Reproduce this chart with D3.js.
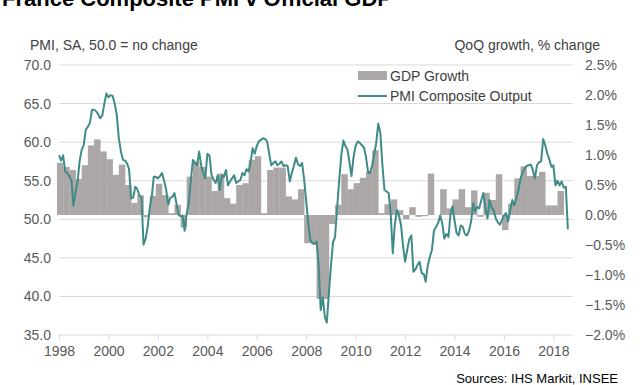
<!DOCTYPE html>
<html>
<head>
<meta charset="utf-8">
<script src="https://cdn.jsdelivr.net/npm/d3@7/dist/d3.min.js"></script>
<style>
  body { margin: 0; background: #fff; }
  svg { display: block; font-family: "Liberation Sans", Arial, sans-serif; }
</style>
</head>
<body>
<div id="chart"></div>
<script>
// PMI composite output, monthly, first value = May 1998
const pmiStart = new Date(1998, 4, 1);
const pmiComposite = [
  58.3, 57.6, 58.3, 56.2, 56.0, 55.6, 55.0, 51.8,                    // 1998 (May-Dec)
  53.5, 55.0, 57.5, 59.0, 59.6, 61.6, 62.0, 62.5, 64.2, 64.2, 64.0, 63.6, // 1999
  63.1, 63.5, 65.0, 66.3, 65.8, 66.1, 66.0, 65.0, 63.5, 60.5, 58.8, 57.7, // 2000
  57.6, 57.2, 56.5, 52.7, 52.8, 54.2, 53.9, 53.1, 52.8, 46.7, 47.5, 49.0, // 2001
  51.5, 53.0, 55.5, 55.5, 55.3, 55.6, 56.0, 55.0, 53.8, 51.9, 52.8, 52.9, // 2002
  53.4, 52.0, 50.6, 50.4, 50.5, 48.5, 50.8, 52.1, 55.1, 57.7, 57.3, 57.0, // 2003
  58.8, 56.9, 56.0, 55.3, 58.5, 58.3, 55.8, 55.1, 54.7, 55.7, 53.8, 55.7, // 2004
  55.5, 56.4, 54.4, 54.9, 55.3, 55.7, 54.7, 54.9, 55.1, 56.0, 55.7, 56.5, // 2005
  56.2, 57.5, 59.2, 58.5, 59.5, 60.1, 60.3, 60.5, 60.4, 60.1, 58.5, 57.0, // 2006
  57.3, 57.5, 57.0, 57.2, 57.5, 56.9, 57.0, 56.9, 54.9, 56.0, 56.9, 58.0, // 2007
  57.1, 56.9, 57.3, 55.1, 52.3, 49.5, 47.3, 46.9, 46.8, 47.1, 44.0, 38.2, // 2008
  39.9, 37.3, 36.6, 40.4, 44.0, 47.0, 47.7, 51.5, 55.1, 58.3, 60.2, 59.5, // 2009
  59.0, 57.3, 55.6, 58.1, 59.5, 60.1, 59.9, 59.6, 59.3, 58.1, 56.1, 56.0, // 2010
  57.0, 58.5, 59.9, 62.4, 61.2, 57.0, 53.8, 53.6, 53.4, 50.8, 45.6, 49.3, // 2011
  51.2, 50.5, 49.3, 46.5, 44.5, 46.0, 47.4, 47.9, 43.2, 43.5, 44.1, 44.5, // 2012
  43.0, 42.9, 41.9, 44.0, 45.1, 46.0, 48.5, 49.0, 49.5, 50.5, 49.5, 47.5, // 2013
  48.1, 47.7, 50.5, 51.7, 49.9, 48.2, 47.9, 49.2, 49.0, 48.1, 47.9, 48.5, // 2014
  49.7, 52.1, 51.0, 51.6, 51.4, 52.5, 53.4, 51.4, 50.1, 52.5, 51.5, 51.2, // 2015
  50.1, 49.6, 49.3, 49.9, 50.5, 50.8, 49.7, 51.2, 52.5, 51.8, 52.8, 53.8, // 2016
  55.3, 56.0, 56.6, 56.9, 57.0, 57.1, 56.4, 55.3, 57.0, 57.4, 57.5, 60.4, // 2017
  59.6, 58.5, 57.8, 56.8, 57.0, 54.4, 55.0, 54.4, 54.9, 54.1, 54.2, 48.7  // 2018
];

// GDP growth q/q %, first bar = quarter starting Apr 1998
const gdpStart = new Date(1998, 3, 1);
const gdpGrowth = [
  0.87, 0.80, 0.75,                 // 1998 Q2-Q4
  0.60, 0.83, 1.16, 1.26,           // 1999
  1.06, 0.93, 0.67, 0.84,           // 2000
  0.50, 0.20, 0.33, -0.04,          // 2001
  0.32, 0.52, 0.33, 0.03,           // 2002
  0.17, -0.21, 0.64, 0.89,          // 2003
  0.80, 0.64, 0.40, 0.69,           // 2004
  0.28, 0.19, 0.50, 0.53,           // 2005
  0.92, 0.98, 0.03, 0.75,           // 2006
  0.79, 0.79, 0.31, 0.26,           // 2007
  0.43, -0.47, -0.47, -1.40,        // 2008
  -1.40, -0.15, 0.17, 0.68,         // 2009
  0.43, 0.53, 0.62, 0.72,           // 2010
  1.08, 0.03, 0.18, 0.26,           // 2011
  0.08, -0.07, 0.13, -0.03,         // 2012
  -0.02, 0.69, 0.00, 0.43,          // 2013
  0.11, 0.26, 0.43, 0.13,           // 2014
  0.41, -0.03, 0.37, 0.25,          // 2015
  0.68, -0.25, 0.19, 0.61,          // 2016
  0.81, 0.65, 0.65, 0.72,           // 2017
  0.16, 0.16, 0.40                  // 2018 Q1-Q3
];

const yearTicks = [1998, 2000, 2002, 2004, 2006, 2008, 2010, 2012, 2014, 2016, 2018];
const pmiTicks = [35, 40, 45, 50, 55, 60, 65, 70];
const gdpTicks = [-2.0, -1.5, -1.0, -0.5, 0.0, 0.5, 1.0, 1.5, 2.0, 2.5];

const width = 640, height = 385;
const plot = { left: 59, right: 573, top: 65, bottom: 335 };
const barColor = '#aca7a7';
const lineColor = '#3e8b88';
const gridColor = '#d9d9d9';
const textColor = '#595959';

const svg = d3.select('#chart').append('svg')
  .attr('width', width)
  .attr('height', height);

// escalas
const x = d3.scaleTime()
  .domain([pmiStart, new Date(2019, 1, 15)])
  .range([plot.left, plot.right]);
const yPmi = d3.scaleLinear().domain([35, 70]).range([plot.bottom, plot.top]);
const yGdp = d3.scaleLinear().domain([-2, 2.5]).range([plot.bottom, plot.top]);

// grid (left axis)
svg.append('g')
  .selectAll('line')
  .data(pmiTicks.filter(d => d > 35))
  .enter()
  .append('line')
  .attr('x1', plot.left)
  .attr('x2', plot.right)
  .attr('y1', d => yPmi(d))
  .attr('y2', d => yPmi(d))
  .attr('stroke', gridColor)
  .attr('stroke-width', 1);

// GDP bars
svg.append('g')
  .selectAll('rect')
  .data(gdpGrowth)
  .enter()
  .append('rect')
  .attr('x', (d, i) => x(d3.timeMonth.offset(gdpStart, 3 * i)))
  .attr('width', (d, i) => x(d3.timeMonth.offset(gdpStart, 3 * i + 3)) - x(d3.timeMonth.offset(gdpStart, 3 * i)) + 0.3)
  .attr('y', d => yGdp(Math.max(d, 0)))
  .attr('height', d => Math.abs(yGdp(d) - yGdp(0)))
  .attr('fill', barColor);

// x axis
const xAxis = d3.axisBottom(x)
  .tickValues(yearTicks.map(yr => new Date(yr, 4, 1)))
  .tickFormat(d3.timeFormat('%Y'))
  .tickSize(5)
  .tickPadding(6);
const gx = svg.append('g')
  .attr('transform', `translate(0,${plot.bottom})`)
  .call(xAxis);
gx.select('.domain').remove();
gx.append('line')
  .attr('x1', plot.left).attr('x2', plot.right)
  .attr('stroke', gridColor);
gx.selectAll('.tick line').attr('stroke', gridColor);
gx.selectAll('.tick text')
  .attr('fill', textColor)
  .attr('font-size', '14px')
  .attr('font-family', '"Liberation Sans", Arial, sans-serif');

// left axis
const gl = svg.append('g')
  .attr('transform', `translate(${plot.left},0)`)
  .call(d3.axisLeft(yPmi).tickValues(pmiTicks).tickFormat(d3.format('.1f')).tickSize(0).tickPadding(8));
gl.select('.domain').remove();
gl.selectAll('.tick text')
  .attr('fill', textColor)
  .attr('font-size', '14px')
  .attr('font-family', '"Liberation Sans", Arial, sans-serif');

// right axis
const gr = svg.append('g')
  .attr('transform', `translate(${plot.right},0)`)
  .call(d3.axisRight(yGdp).tickValues(gdpTicks).tickFormat(d => d3.format('.1f')(d) + '%').tickSize(0).tickPadding(12));
gr.select('.domain').remove();
gr.selectAll('.tick text')
  .attr('fill', textColor)
  .attr('font-size', '14px')
  .attr('font-family', '"Liberation Sans", Arial, sans-serif');

// PMI line
const line = d3.line()
  .x((d, i) => x(d3.timeMonth.offset(pmiStart, i)))
  .y(d => yPmi(d));
svg.append('path')
  .datum(pmiComposite)
  .attr('d', line)
  .attr('fill', 'none')
  .attr('stroke', lineColor)
  .attr('stroke-width', 2)
  .attr('stroke-linejoin', 'round');

// title
svg.append('text')
  .attr('x', 2)
  .attr('y', 6)
  .attr('font-size', '22px')
  .attr('font-weight', 'bold')
  .attr('fill', '#000')
  .text('France Composite PMI v Official GDP');

// axis titles
svg.append('text')
  .attr('x', 30)
  .attr('y', 50)
  .attr('font-size', '14px')
  .attr('fill', '#404040')
  .text('PMI, SA, 50.0 = no change');
svg.append('text')
  .attr('x', 600)
  .attr('y', 50)
  .attr('text-anchor', 'end')
  .attr('font-size', '14px')
  .attr('fill', '#404040')
  .text('QoQ growth, % change');

// legend
const legend = svg.append('g').attr('transform', 'translate(358,0)');
legend.append('rect')
  .attr('x', 0).attr('y', 71)
  .attr('width', 29).attr('height', 9)
  .attr('fill', barColor);
legend.append('text')
  .attr('x', 32).attr('y', 81)
  .attr('font-size', '14px')
  .attr('fill', '#404040')
  .text('GDP Growth');
legend.append('line')
  .attr('x1', 0).attr('x2', 29)
  .attr('y1', 96).attr('y2', 96)
  .attr('stroke', lineColor)
  .attr('stroke-width', 2);
legend.append('text')
  .attr('x', 32).attr('y', 101)
  .attr('font-size', '14px')
  .attr('fill', '#404040')
  .text('PMI Composite Output');

// source
svg.append('text')
  .attr('x', 618)
  .attr('y', 383)
  .attr('text-anchor', 'end')
  .attr('font-size', '13px')
  .attr('fill', '#000')
  .text('Sources: IHS Markit, INSEE');
</script>
</body>
</html>
